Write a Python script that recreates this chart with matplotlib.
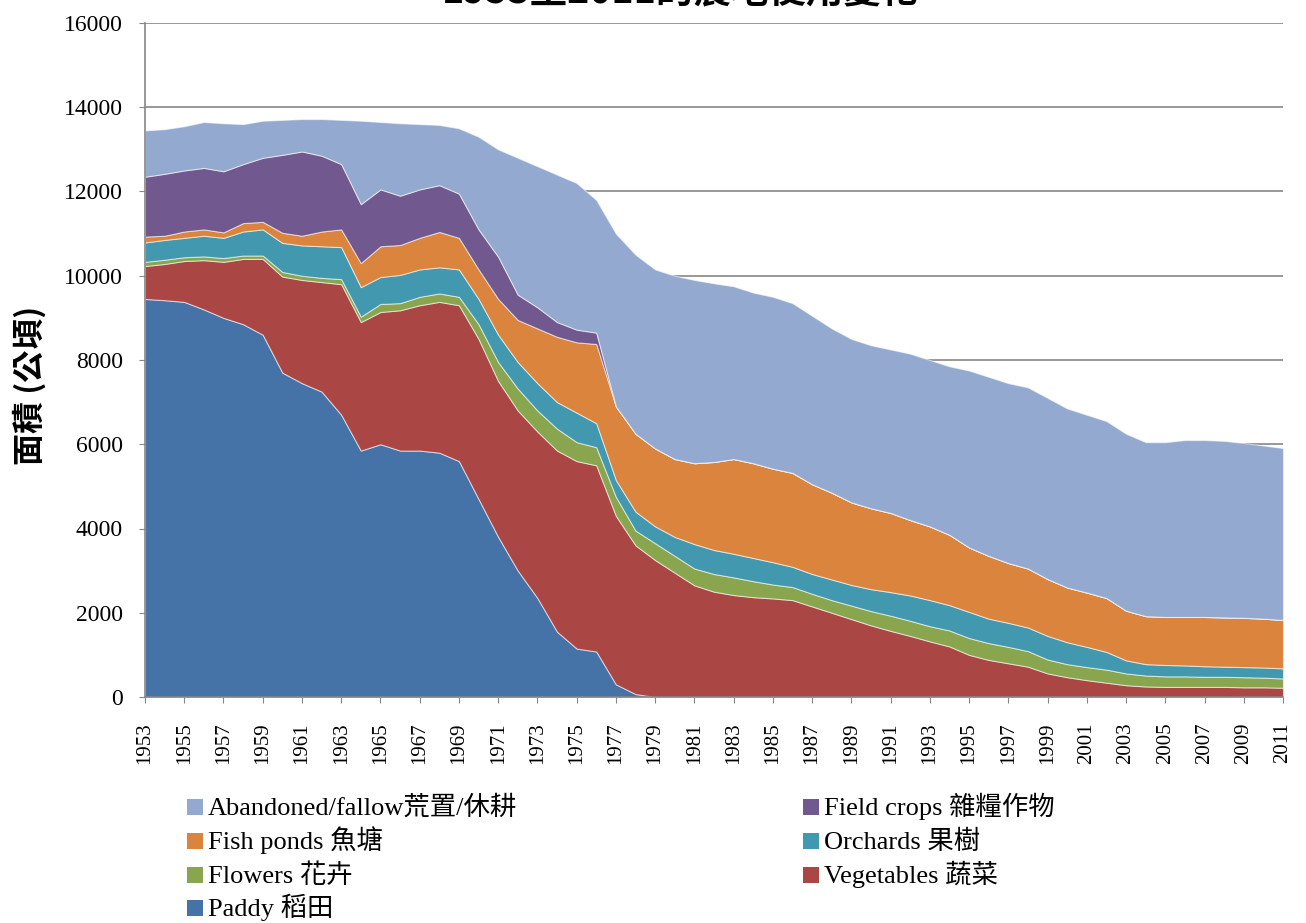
import numpy as np
import matplotlib
matplotlib.use("Agg")
import matplotlib.pyplot as plt
from matplotlib.patches import Rectangle

plt.rcParams['font.family'] = ['Liberation Serif', 'Noto Sans CJK TC', 'DejaVu Sans']

years = list(range(1953, 2012))

# hectares per land use (stack order bottom -> top)
paddy = [9450, 9420, 9380, 9200, 9000, 8850, 8600, 7700, 7450, 7250,
         6700, 5850, 6000, 5850, 5850, 5800, 5600, 4700, 3800, 3000,
         2350, 1550, 1150, 1080, 300, 70] + [0] * 33
vegetables = [780, 860, 970, 1170, 1330, 1550, 1800, 2280, 2450, 2600,
              3100, 3050, 3140, 3330, 3450, 3580, 3700, 3800, 3700, 3800,
              3950, 4300, 4450, 4420, 4000, 3530, 3250, 2950, 2650, 2500,
              2420, 2370, 2340, 2300, 2150, 2000, 1850, 1700, 1570, 1450,
              1320, 1200, 1000, 880, 800, 720, 560, 470, 400, 340,
              280, 250, 240, 240, 240, 240, 230, 230, 220]
flowers = [100, 100, 90, 90, 90, 80, 80, 110, 100, 100,
           120, 130, 190, 170, 200, 200, 200, 350, 450, 520,
           500, 520, 450, 430, 450, 350, 400, 400, 400, 420,
           420, 380, 330, 310, 300, 300, 320, 340, 360, 360,
           360, 380, 400, 400, 390, 370, 330, 310, 310, 310,
           280, 260, 250, 250, 240, 240, 240, 230, 220]
orchards = [460, 470, 460, 490, 480, 570, 620, 690, 720, 750,
            760, 700, 640, 670, 650, 620, 650, 600, 650, 630,
            650, 630, 700, 570, 400, 450, 400, 450, 580, 570,
            560, 550, 530, 480, 470, 490, 490, 520, 560, 600,
            620, 600, 620, 580, 570, 560, 560, 520, 480, 420,
            310, 270, 270, 260, 250, 240, 240, 240, 240]
fish_ponds = [140, 100, 150, 150, 130, 200, 180, 240, 230, 350,
              420, 570, 730, 710, 750, 840, 750, 700, 850, 1000,
              1300, 1550, 1670, 1880, 1750, 1850, 1850, 1850, 1920, 2090,
              2250, 2250, 2220, 2230, 2130, 2060, 1960, 1920, 1880, 1790,
              1750, 1670, 1530, 1490, 1420, 1400, 1350, 1300, 1290, 1280,
              1180, 1140, 1140, 1150, 1170, 1170, 1170, 1160, 1150]
field_crops = [1420, 1470, 1450, 1460, 1450, 1400, 1520, 1850, 2000, 1800,
               1550, 1400, 1350, 1170, 1150, 1110, 1050, 950, 1000, 600,
               500, 350, 300, 270] + [0] * 35
abandoned = [1100, 1060, 1050, 1090, 1140, 950, 880, 830, 770, 870,
             1050, 1980, 1600, 1720, 1550, 1430, 1550, 2200, 2550, 3250,
             3350, 3500, 3480, 3150, 4100, 4250, 4250, 4350, 4350, 4240,
             4100, 4050, 4080, 4030, 4000, 3900, 3880, 3870, 3880, 3950,
             3950, 4000, 4200, 4250, 4270, 4300, 4300, 4250, 4220, 4200,
             4200, 4130, 4150, 4200, 4200, 4190, 4150, 4110, 4080]

series = [paddy, vegetables, flowers, orchards, fish_ponds, field_crops, abandoned]
labels = ['Paddy 稻田', 'Vegetables 蔬菜', 'Flowers 花卉', 'Orchards 果樹',
          'Fish ponds 魚塘', 'Field crops 雜糧作物', 'Abandoned/fallow荒置/休耕']
colors = ['#4572A7', '#AA4643', '#89A54E', '#4198AF', '#DB843D', '#71588F', '#93A9CF']

W, H = 1306, 923
fig = plt.figure(figsize=(W / 100, H / 100), dpi=100)
ax = fig.add_axes([145 / W, 1 - 697 / H, (1283 - 145) / W, 674 / H])

polys = ax.stackplot(years, *series, colors=colors, zorder=2)
for p in polys:
    p.set_edgecolor((1, 1, 1, 0.55))
    p.set_linewidth(0.8)

ax.set_xlim(1953, 2011)
ax.set_ylim(0, 16000)
ax.set_yticks(range(0, 16001, 2000))
ax.set_xticks(years[::2])
ax.set_xticklabels([str(y) for y in years[::2]], rotation=90, fontsize=15)
ax.tick_params(axis='y', labelsize=17, length=4, color='#868686', pad=12)
ax.tick_params(axis='x', length=4, color='#868686', pad=14)

ax.grid(axis='y', color='#868686', linewidth=1.2, zorder=0)
ax.set_axisbelow(True)
for side in ['top', 'right']:
    ax.spines[side].set_visible(False)
for side in ['left', 'bottom']:
    ax.spines[side].set_color('#868686')
    ax.spines[side].set_linewidth(1.2)

fig.text(30 / W, 1 - 385 / H, '面積 (公頃)', rotation=90, ha='center', va='center',
         fontsize=23, fontweight='bold', family=['Noto Sans CJK TC', 'DejaVu Sans'])

# title is cropped at the top edge in the original image
fig.text(681 / W, 1 + 8 / H, '1953至2011的農地使用變化', ha='center', va='center',
         fontsize=27, fontweight='bold', family=['Noto Sans CJK TC', 'DejaVu Sans'])

# legend laid out by hand: two columns, evenly spaced rows, shared baseline per row
left_col = [6, 4, 2, 0]
right_col = [5, 3, 1]
row_y = [807, 841, 875, 908]
for col_x, idxs in [(187, left_col), (803, right_col)]:
    for row, i in enumerate(idxs):
        yc = row_y[row]
        fig.patches.append(Rectangle((col_x / W, 1 - (yc + 8) / H), 16 / W, 16 / H,
                                     transform=fig.transFigure, facecolor=colors[i],
                                     edgecolor='none'))
        fig.text((col_x + 21) / W, 1 - (yc + 8) / H, labels[i], ha='left', va='baseline',
                 fontsize=19)

fig.savefig('out.png', dpi=100)
